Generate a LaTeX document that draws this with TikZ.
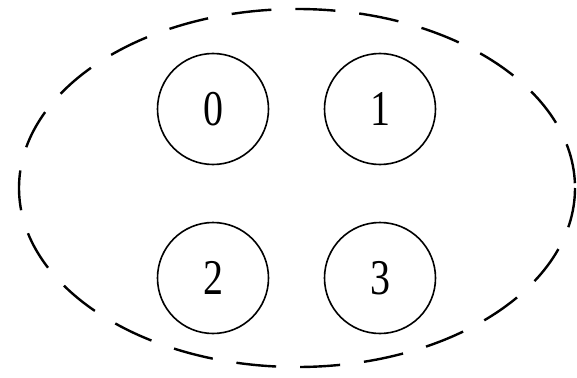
\documentclass[tikz,border=0pt]{standalone}
\usepackage{fontspec}
\setmainfont{Liberation Serif}
\begin{document}
\begin{tikzpicture}[x=1pt,y=-1pt,
  cell/.style={circle,draw,line width=1.6pt,minimum size=111pt,inner sep=0pt,
    font=\fontsize{50}{50}\selectfont},
  outer/.style={draw,line width=2.4pt,dash pattern=on 40pt off 24pt}]
\useasboundingbox (0,0) rectangle (577,377);
\draw[outer] (297,188) ellipse [x radius=278, y radius=179];
\node[cell] (c0) at (213,109) {\scalebox{0.8}[1]{0}};
\node[cell] (c1) at (380,109) {\scalebox{0.8}[1]{1}};
\node[cell] (c2) at (213,278) {\scalebox{0.8}[1]{2}};
\node[cell] (c3) at (380,278) {\scalebox{0.8}[1]{3}};
\end{tikzpicture}
\end{document}
